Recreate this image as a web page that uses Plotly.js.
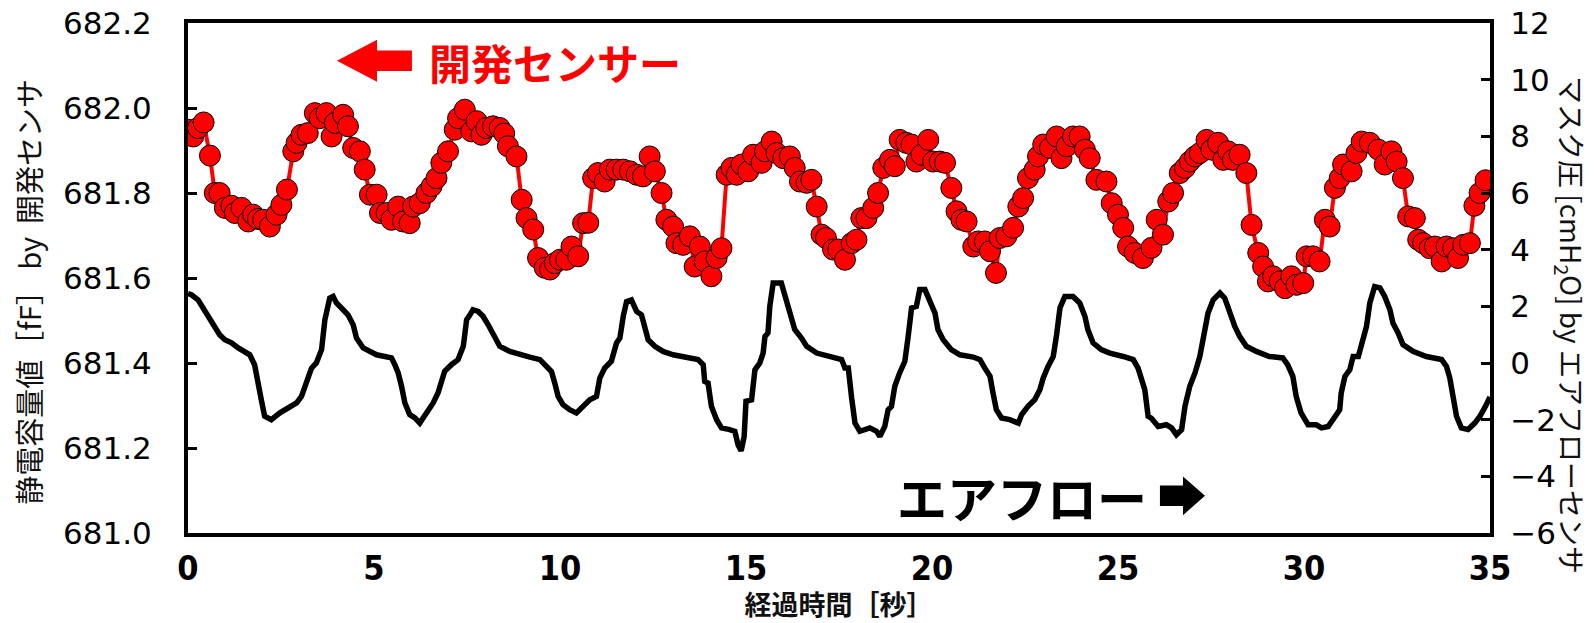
<!DOCTYPE html>
<html>
<head>
<meta charset="utf-8">
<script src="https://cdn.plot.ly/plotly-3.0.1.min.js"></script>
<style>html,body{margin:0;padding:0;background:#fff;}#chart{width:1595px;height:623px;}</style>
</head>
<body>
<div id="chart"></div>
<script>
// ---- Red series: capacitance by developed sensor (left axis, fF) ----
const sensorTime = [0.0,0.14,0.27,0.42,0.59,0.72,0.85,0.99,1.17,1.26,1.44,1.62,1.75,1.88,2.02,2.20,2.38,2.51,2.66,2.83,2.92,3.05,3.22,3.41,3.54,3.72,3.86,3.95,4.17,4.30,4.44,4.62,4.75,4.89,5.07,5.16,5.34,5.47,5.65,5.78,5.96,6.05,6.23,6.41,6.55,6.68,6.81,6.99,7.17,7.26,7.44,7.62,7.76,7.89,8.02,8.20,8.38,8.50,8.60,8.83,8.97,9.10,9.28,9.41,9.59,9.73,9.86,10.00,10.17,10.31,10.49,10.62,10.76,10.89,11.02,11.20,11.34,11.52,11.70,11.88,12.06,12.23,12.41,12.55,12.73,12.86,13.04,13.13,13.31,13.49,13.62,13.76,13.89,14.07,14.21,14.34,14.48,14.61,14.75,14.88,15.06,15.19,15.42,15.51,15.69,15.82,16.00,16.18,16.31,16.45,16.63,16.76,16.90,17.03,17.15,17.34,17.48,17.66,17.84,17.97,18.10,18.24,18.42,18.55,18.69,18.87,19.00,19.13,19.31,19.45,19.58,19.72,19.90,20.03,20.21,20.35,20.52,20.66,20.79,20.93,21.11,21.24,21.42,21.56,21.72,21.82,22.00,22.18,22.32,22.45,22.58,22.76,22.85,22.99,23.17,23.35,23.48,23.62,23.79,23.97,24.11,24.24,24.42,24.69,24.83,25.00,25.14,25.27,25.45,25.67,25.90,26.04,26.21,26.35,26.48,26.66,26.80,26.93,27.07,27.20,27.38,27.51,27.69,27.83,27.96,28.09,28.27,28.45,28.59,28.77,28.90,29.03,29.17,29.35,29.49,29.66,29.80,29.98,30.07,30.24,30.42,30.56,30.69,30.83,30.96,31.05,31.28,31.41,31.55,31.77,32.00,32.17,32.35,32.49,32.66,32.80,32.98,33.07,33.20,33.38,33.52,33.70,33.83,34.01,34.14,34.28,34.46,34.58,34.72,34.88];
const sensorValue = [681.949,681.933,681.953,681.966,681.888,681.800,681.800,681.765,681.770,681.753,681.765,681.733,681.749,681.739,681.737,681.721,681.749,681.772,681.808,681.898,681.918,681.937,681.941,681.988,681.976,681.988,681.933,681.965,681.984,681.957,681.906,681.898,681.855,681.796,681.796,681.753,681.753,681.737,681.768,681.733,681.729,681.768,681.776,681.800,681.816,681.835,681.871,681.898,681.949,681.976,681.996,681.945,681.969,681.937,681.953,681.957,681.953,681.940,681.910,681.886,681.784,681.741,681.714,681.647,681.624,681.620,681.635,681.643,681.643,681.674,681.651,681.729,681.730,681.835,681.847,681.827,681.855,681.855,681.855,681.851,681.843,681.839,681.886,681.851,681.800,681.737,681.721,681.682,681.678,681.698,681.627,681.674,681.639,681.604,681.647,681.670,681.843,681.859,681.843,681.867,681.851,681.890,681.871,681.898,681.921,681.894,681.882,681.886,681.859,681.827,681.824,681.831,681.768,681.702,681.694,681.667,681.667,681.643,681.682,681.690,681.741,681.741,681.765,681.800,681.859,681.878,681.863,681.925,681.918,681.914,681.874,681.890,681.925,681.874,681.874,681.871,681.812,681.757,681.737,681.733,681.674,681.686,681.686,681.663,681.612,681.694,681.698,681.718,681.768,681.788,681.835,681.855,681.886,681.914,681.906,681.933,681.882,681.910,681.933,681.933,681.902,681.882,681.831,681.827,681.776,681.749,681.718,681.674,681.659,681.647,681.671,681.737,681.702,681.780,681.800,681.847,681.859,681.874,681.886,681.894,681.925,681.902,681.918,681.878,681.898,681.878,681.890,681.847,681.725,681.659,681.627,681.592,681.604,681.592,681.576,681.604,681.584,681.588,681.651,681.651,681.639,681.737,681.721,681.812,681.835,681.867,681.851,681.894,681.921,681.918,681.902,681.867,681.898,681.874,681.835,681.745,681.741,681.690,681.682,681.670,681.674,681.639,681.674,681.670,681.647,681.678,681.682,681.770,681.800,681.830];

// ---- Black series: mask pressure by airflow sensor (right axis, cmH2O) ----
const flowTime = [0.00,0.09,0.27,0.41,0.54,0.67,0.85,0.99,1.17,1.35,1.53,1.66,1.79,1.88,1.97,2.06,2.24,2.47,2.69,2.92,3.05,3.18,3.32,3.45,3.59,3.68,3.81,3.90,3.99,4.17,4.30,4.44,4.53,4.71,4.89,5.07,5.29,5.47,5.56,5.65,5.74,5.83,5.96,6.10,6.23,6.41,6.59,6.72,6.81,6.90,7.08,7.26,7.40,7.49,7.58,7.66,7.80,7.93,8.07,8.25,8.38,8.65,8.92,9.19,9.46,9.64,9.77,9.86,9.95,10.08,10.26,10.44,10.62,10.80,10.98,11.07,11.20,11.38,11.52,11.61,11.70,11.79,11.92,12.06,12.19,12.28,12.37,12.55,12.77,13.04,13.40,13.71,13.85,13.89,13.98,14.07,14.21,14.34,14.56,14.70,14.79,14.87,14.95,15.00,15.15,15.24,15.37,15.46,15.51,15.59,15.64,15.73,15.95,16.09,16.22,16.31,16.49,16.63,16.90,17.21,17.45,17.57,17.66,17.75,17.84,17.93,18.06,18.33,18.51,18.60,18.73,18.82,18.91,19.00,19.13,19.27,19.36,19.45,19.58,19.67,19.81,19.94,20.08,20.16,20.30,20.52,20.75,21.11,21.29,21.42,21.56,21.64,21.73,21.87,22.09,22.32,22.41,22.58,22.76,22.90,22.99,23.12,23.26,23.35,23.44,23.57,23.79,23.97,24.11,24.19,24.33,24.55,24.78,25.14,25.41,25.54,25.63,25.72,25.81,25.90,26.08,26.30,26.44,26.57,26.71,26.80,26.93,27.07,27.20,27.29,27.42,27.56,27.74,27.87,28.00,28.14,28.27,28.45,28.72,29.07,29.43,29.56,29.70,29.79,29.92,30.11,30.33,30.47,30.65,30.83,30.96,31.00,31.10,31.23,31.32,31.46,31.59,31.68,31.77,31.90,32.04,32.17,32.31,32.39,32.53,32.66,32.93,33.29,33.70,33.83,33.92,34.01,34.10,34.23,34.41,34.59,34.73,34.87,35.00];
const flowValue = [2.45,2.41,2.23,1.94,1.65,1.35,1.00,0.82,0.71,0.53,0.41,0.29,-0.06,-0.59,-1.30,-1.88,-2.00,-1.76,-1.59,-1.41,-1.18,-0.65,-0.18,0.00,0.47,1.53,2.29,2.35,2.12,1.88,1.70,1.35,0.88,0.53,0.41,0.29,0.23,0.18,-0.06,-0.35,-0.82,-1.41,-1.82,-1.94,-2.12,-1.76,-1.41,-1.06,-0.59,-0.29,-0.06,0.12,0.59,1.53,1.70,1.88,1.82,1.65,1.35,0.88,0.59,0.41,0.29,0.21,0.12,-0.12,-0.30,-0.71,-1.18,-1.47,-1.65,-1.76,-1.53,-1.30,-1.18,-0.53,-0.18,0.06,0.71,0.88,1.65,2.17,2.23,1.82,1.70,1.29,0.82,0.59,0.41,0.29,0.21,0.12,-0.06,-0.65,-0.71,-1.53,-2.00,-2.29,-2.35,-2.41,-2.90,-3.10,-2.60,-1.35,-1.30,-0.24,0.00,0.35,0.94,1.06,2.00,2.82,2.82,2.23,1.65,1.18,0.88,0.59,0.35,0.23,0.18,0.12,-0.18,-0.18,-1.24,-2.12,-2.41,-2.29,-2.41,-2.59,-2.24,-1.65,-1.53,-0.82,-0.35,0.06,0.94,1.94,2.00,2.59,2.59,2.23,1.76,1.18,0.82,0.47,0.29,0.21,0.12,-0.18,-0.47,-1.06,-1.65,-1.94,-2.00,-2.12,-1.82,-1.53,-1.30,-0.94,-0.53,-0.12,0.23,1.00,1.94,2.35,2.35,2.12,1.65,1.18,0.71,0.47,0.35,0.23,0.12,-0.18,-0.59,-0.94,-1.88,-1.95,-2.24,-2.18,-2.29,-2.53,-2.35,-1.53,-0.82,-0.35,0.23,0.94,1.76,2.23,2.47,2.29,1.76,1.29,0.94,0.59,0.41,0.23,0.18,-0.06,-0.47,-1.18,-1.76,-2.18,-2.18,-2.29,-2.24,-1.94,-1.65,-1.06,-0.47,-0.24,0.23,0.23,0.94,1.29,2.12,2.70,2.65,2.35,1.88,1.41,1.06,0.65,0.41,0.23,0.12,-0.12,-0.53,-1.18,-1.88,-2.29,-2.35,-2.12,-1.88,-1.55,-1.20];

// ---- Axis ticks & labels ----
const xTicks = [0,5,10,15,20,25,30,35];
const leftTicks = [681.0,681.2,681.4,681.6,681.8,682.0,682.2];
const leftTickText = ['681.0','681.2','681.4','681.6','681.8','682.0','682.2'];
const rightTicks = [-6,-4,-2,0,2,4,6,8,10,12];
const xTitle = '経過時間［秒］';
const leftTitle = '静電容量値［fF］ by  開発センサ';
const rightTitle = 'マスク圧 [cmH<sub>2</sub>O] by エアフローセンサ';
const sensorLabel = '開発センサー';
const flowLabel = 'エアフロー';

const CJK = '"Noto Sans CJK JP", "Noto Sans", sans-serif';
const NUM = '"DejaVu Sans", sans-serif';
const NARROW = '"Liberation Sans Narrow", "DejaVu Sans Condensed", sans-serif';

const traces = [
  {
    x: flowTime, y: flowValue, yaxis: 'y2', type: 'scatter', mode: 'lines',
    line: {color: '#000000', width: 5.5}, hoverinfo: 'skip'
  },
  {
    x: sensorTime, y: sensorValue, yaxis: 'y', type: 'scatter', mode: 'lines+markers',
    line: {color: '#ff0000', width: 4},
    marker: {color: '#ff0000', size: 21, line: {color: '#000000', width: 1}},
    hoverinfo: 'skip'
  }
];

const layout = {
  width: 1595, height: 623,
  margin: {l: 188, r: 105, t: 23, b: 90},
  paper_bgcolor: '#ffffff', plot_bgcolor: '#ffffff',
  showlegend: false,
  font: {family: CJK, color: '#000000'},
  xaxis: {
    range: [0, 35], tickvals: xTicks, ticks: '', showgrid: false, zeroline: false,
    showline: true, linecolor: '#000', linewidth: 4, mirror: true,
    tickfont: {size: 34, color: '#000', family: NARROW, weight: 'bold'}, ticklabelstandoff: 2,
    title: {text: xTitle, font: {size: 27, color: '#111', family: CJK, weight: 'bold'}, standoff: 8}
  },
  yaxis: {
    range: [681.0, 682.2], tickvals: leftTicks, ticktext: leftTickText,
    ticks: 'inside', ticklen: 9, tickwidth: 3, tickcolor: '#000',
    showgrid: false, zeroline: false,
    showline: true, linecolor: '#000', linewidth: 4,
    tickfont: {size: 31, color: '#000', family: NUM}, ticklabelstandoff: 26
  },
  yaxis2: {
    range: [-6, 12], tickvals: rightTicks, overlaying: 'y', side: 'right',
    ticks: 'inside', ticklen: 9, tickwidth: 3, tickcolor: '#000',
    showgrid: false, zeroline: false,
    showline: true, linecolor: '#000', linewidth: 4,
    tickfont: {size: 31, color: '#000', family: NUM}, ticklabelstandoff: 10
  },
  annotations: [
    {xref: 'paper', yref: 'paper', x: -0.1225, y: 0.472, text: leftTitle, showarrow: false,
     textangle: -90, font: {size: 29, color: '#111', family: CJK}, xanchor: 'center', yanchor: 'middle'},
    {xref: 'paper', yref: 'paper', x: 1.0615, y: 0.4075, text: rightTitle, showarrow: false,
     textangle: 90, font: {size: 28, color: '#111', family: CJK}, xanchor: 'center', yanchor: 'middle'},
    {xref: 'paper', yref: 'paper', x: 0.2819, y: 0.924, text: sensorLabel, showarrow: false,
     font: {size: 42, color: '#ff0000', family: CJK, weight: 'bold'}, xanchor: 'center', yanchor: 'middle'},
    {xref: 'paper', yref: 'paper', x: 0.6406, y: 0.073, text: flowLabel, showarrow: false,
     font: {size: 50, color: '#000000', family: CJK, weight: 'bold'}, xanchor: 'center', yanchor: 'middle'}
  ],
  shapes: [
    {type: 'path', xref: 'paper', yref: 'paper', fillcolor: '#ff0000', line: {width: 0},
     path: 'M 0.1144 0.926 L 0.1452 0.967 L 0.1452 0.946 L 0.172 0.946 L 0.172 0.906 L 0.1452 0.906 L 0.1452 0.885 Z'},
    {type: 'path', xref: 'paper', yref: 'paper', fillcolor: '#000000', line: {width: 0},
     path: 'M 0.7811 0.073 L 0.7642 0.111 L 0.7642 0.093 L 0.7465 0.093 L 0.7465 0.053 L 0.7642 0.053 L 0.7642 0.035 Z'}
  ]
};

Plotly.newPlot('chart', traces, layout, {displayModeBar: false, staticPlot: true});
</script>
</body>
</html>
